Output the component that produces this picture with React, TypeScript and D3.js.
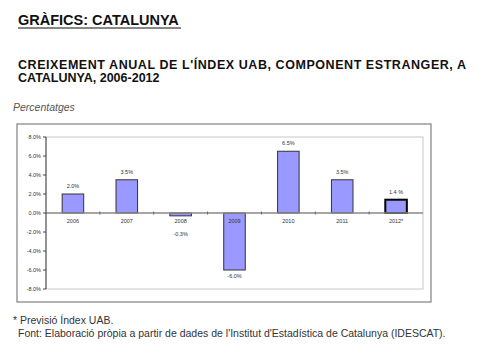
import React from "react";
import * as d3 from "d3";

const categories = ["2006", "2007", "2008", "2009", "2010", "2011", "2012*"];
const values = [2.0, 3.5, -0.3, -6.0, 6.5, 3.5, 1.4];
const valueLabels = ["2.0%", "3.5%", "-0.3%", "-6.0%", "6.5%", "3.5%", "1.4 %"];
const yTicks = [8, 6, 4, 2, 0, -2, -4, -6, -8];

export default function App() {
  const W = 478, H = 360;
  const plot = { left: 46, right: 423, top: 137, bottom: 289 };
  const x = d3.scaleBand<string>().domain(categories).range([plot.left, plot.right]).paddingInner(0.6).paddingOuter(0.3);
  const y = d3.scaleLinear().domain([-8, 8]).range([plot.bottom, plot.top]);
  const step = x.step();
  const band = d3.scaleBand<string>().domain(categories).range([plot.left, plot.right]);
  const fmt = (v: number) => v.toFixed(1) + "%";
  const font = "'Liberation Sans', Arial, sans-serif";
  const y0 = y(0);
  return (
    <svg width={W} height={H} style={{ position: "absolute", left: 0, top: 0, background: "#fff" }} fontFamily={font}>
      <text x={18} y={25} fontSize={14.5} fontWeight="bold" fill="#111">GRÀFICS: CATALUNYA</text>
      <line x1={18} x2={181} y1={28} y2={28} stroke="#111" strokeWidth={1.2} />
      <text x={18} y={69} fontSize={12.5} fontWeight="bold" fill="#111" textLength={448} lengthAdjust="spacing">CREIXEMENT ANUAL DE L'ÍNDEX UAB, COMPONENT ESTRANGER,  A</text>
      <text x={18} y={82} fontSize={12.5} fontWeight="bold" fill="#111">CATALUNYA, 2006-2012</text>
      <text x={13} y={111} fontSize={10.5} fontStyle="italic" fill="#555">Percentatges</text>

      <rect x={17} y={124} width={414} height={178} fill="#fff" stroke="#8a8a8a" strokeWidth={1.3} />
      <rect x={plot.left} y={plot.top} width={plot.right - plot.left} height={plot.bottom - plot.top} fill="none" stroke="#c8c8c8" strokeWidth={1} />

      {values.map((v, i) => {
        const c = categories[i];
        const top = y(Math.max(0, v));
        const h = Math.abs(y(v) - y0);
        return (
          <rect key={c} x={x(c)} y={top} width={x.bandwidth()} height={h} fill="#9999ff"
            stroke={i === values.length - 1 ? "#000" : "#333"} strokeWidth={i === values.length - 1 ? 2 : 1} />
        );
      })}

      <line x1={plot.left} x2={plot.right} y1={y0} y2={y0} stroke="#888" strokeWidth={1.3} />
      {categories.slice(1).map((c) => (
        <line key={"t" + c} x1={band(c)} x2={band(c)} y1={y0 - 1.5} y2={y0 + 1.5} stroke="#666" strokeWidth={1} />
      ))}
      <line x1={plot.left} x2={plot.left} y1={plot.top} y2={plot.bottom} stroke="#444" strokeWidth={1} />
      {yTicks.map((t) => (
        <g key={t}>
          <line x1={plot.left - 3} x2={plot.left} y1={y(t)} y2={y(t)} stroke="#444" strokeWidth={1} />
          <text x={plot.left - 5} y={y(t) + 2} fontSize={5.5} textAnchor="end" fill="#333">{fmt(t)}</text>
        </g>
      ))}

      {categories.map((c) => (
        <text key={"c" + c} x={(x(c) as number) + x.bandwidth() / 2} y={y0 + 10} fontSize={5.5} textAnchor="middle" fill="#333">{c}</text>
      ))}

      {values.map((v, i) => {
        const c = categories[i];
        const cx = (x(c) as number) + x.bandwidth() / 2;
        const ly = v >= 0 ? y(v) - 6 : Math.max(y(v) + 8, y0 + 23);
        return (
          <text key={"v" + c} x={cx} y={ly} fontSize={5.5} textAnchor="middle" fill="#333">{valueLabels[i]}</text>
        );
      })}

      <text x={13} y={324} fontSize={10.5} fill="#333">* Previsió Índex UAB.</text>
      <text x={18} y={337} fontSize={10.5} fill="#333">Font: Elaboració pròpia a partir de dades de l'Institut d'Estadística de Catalunya (IDESCAT).</text>
    </svg>
  );
}
